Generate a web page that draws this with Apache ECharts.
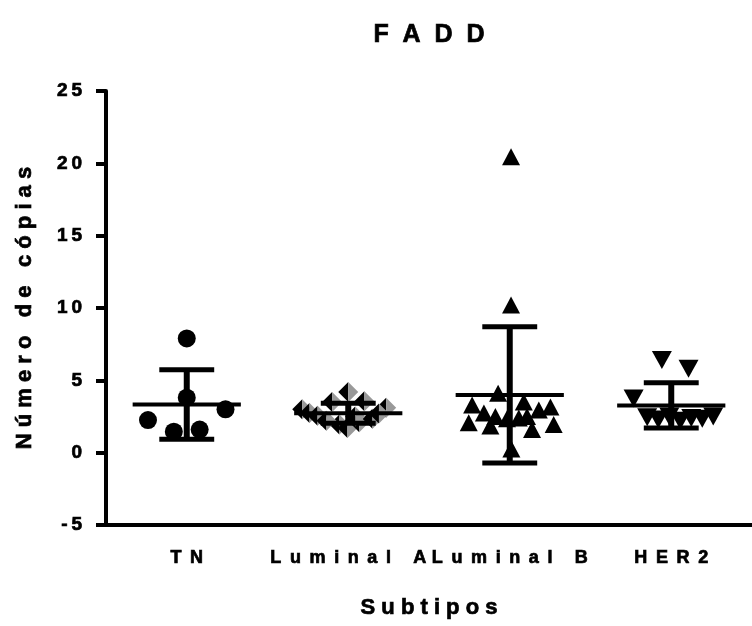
<!DOCTYPE html>
<html>
<head>
<meta charset="utf-8">
<title>FADD</title>
<script src="https://cdn.jsdelivr.net/npm/echarts@6/dist/echarts.min.js"></script>
<style>
html, body { margin: 0; padding: 0; background: #fff; }
#chart { width: 752px; height: 626px; }
</style>
</head>
<body>
<div id="chart"></div>
<script>
// categorias e valores
var categories = ['TN', 'Luminal A', 'Luminal B', 'HER2'];
var yMin = -5, yMax = 25, yStep = 5;

var tnValues = [7.9, 3.8, 2.25, 1.45, 1.6, 3.0];
var tnJitter = [0, 0, -0.24, -0.08, 0.08, 0.24];

var lumAValues = [4.2, 3.5, 3.55, 3.1, 3.0, 2.75, 2.55, 1.95, 1.7, 2.1, 2.35, 2.7, 2.2, 2.5];
var lumAJitter = [0, -0.1, 0.1, 0.235, -0.285, -0.24, -0.19, -0.055, -0.005, 0.068, 0.15, 0.19, -0.135, 0.043];

var lumBValues = [20.45, 10.2, 4.1, 3.3, 3.5, 2.75, 2.5, 2.07, 2.35, 2.4, 2.5, 2.95, 3.15, 1.85, 1.6, 1.95, 0.25];
var lumBJitter = [0.008, 0.008, -0.072, -0.233, 0.087, -0.16, -0.089, -0.254, -0.017, 0.056, 0.107, 0.18, 0.252, -0.12, 0.138, 0.272, 0.01];

var her2Values = [6.4, 5.8, 3.75, 2.45, 2.3, 2.5, 2.2, 2.4, 2.35, 2.5];
var her2Jitter = [-0.058, 0.107, -0.233, -0.149, -0.08, -0.012, 0.056, 0.124, 0.192, 0.26];

var groups = [
  [tnValues, tnJitter],
  [lumAValues, lumAJitter],
  [lumBValues, lumBJitter],
  [her2Values, her2Jitter]
];

// texto espaçado como no original
function spaced(s, sep) {
  return String(s).split('').join(sep || ' ');
}

function meanSd(arr) {
  var m = arr.reduce(function (a, b) { return a + b; }, 0) / arr.length;
  var ss = arr.reduce(function (a, b) { return a + (b - m) * (b - m); }, 0);
  return [m, Math.sqrt(ss / (arr.length - 1))];
}

function points(idx) {
  var g = groups[idx];
  return g[0].map(function (v, i) { return [idx + g[1][i], v]; });
}

var errData = groups.map(function (g, i) {
  var ms = meanSd(g[0]);
  return [i, ms[0], ms[1]];
});

var font = 'Liberation Sans, Arial, sans-serif';
// contorno fino para deixar o negrito mais pesado
var heavy = { color: '#000', fontFamily: font, fontWeight: 'bold', textBorderColor: '#000', textBorderWidth: 0.7 };

var chart = echarts.init(document.getElementById('chart'));
chart.setOption({
  backgroundColor: '#fff',
  animation: false,
  title: {
    text: spaced('FADD', '  '),
    left: 424,
    top: 18,
    textAlign: 'center',
    textStyle: Object.assign({ fontSize: 25 }, heavy)
  },
  grid: { left: 106, right: 0, top: 91, bottom: 101, outerBoundsMode: 'none' },
  xAxis: [{
    type: 'category',
    data: categories,
    boundaryGap: true,
    axisLine: { onZero: false, lineStyle: { color: '#000', width: 4 } },
    axisTick: { alignWithLabel: true, length: 10, lineStyle: { color: '#000', width: 4 } },
    axisLabel: Object.assign({
      interval: 0,
      hideOverlap: false,
      margin: 24,
      fontSize: 18,
      formatter: function (v) { return spaced(v, ' \u2009'); }
    }, heavy),
    name: spaced('Subtipos'),
    nameLocation: 'middle',
    nameGap: 72,
    nameTextStyle: Object.assign({ fontSize: 22 }, heavy),
    splitLine: { show: false }
  }, {
    type: 'value',
    min: -0.5,
    max: 3.5,
    show: false
  }],
  yAxis: {
    type: 'value',
    min: yMin,
    max: yMax,
    interval: yStep,
    axisLine: { show: true, onZero: false, lineStyle: { color: '#000', width: 4 } },
    axisTick: { show: true, length: 10, lineStyle: { color: '#000', width: 4 } },
    axisLabel: Object.assign({
      margin: 24,
      fontSize: 19,
      formatter: function (v) { return spaced(v, '\u2009'); }
    }, heavy),
    splitLine: { show: false },
    name: spaced('Número de cópias'),
    nameLocation: 'middle',
    nameGap: 70,
    nameTextStyle: Object.assign({ fontSize: 22 }, heavy)
  },
  series: [
    {
      type: 'scatter',
      xAxisIndex: 1,
      data: points(0),
      symbol: 'circle',
      symbolSize: 18,
      itemStyle: { color: '#000', opacity: 1 }
    },
    {
      // losangos meio preto, meio cinza
      type: 'custom',
      xAxisIndex: 1,
      data: points(1),
      renderItem: function (params, api) {
        var p = api.coord([api.value(0), api.value(1)]);
        var h = 10;
        return {
          type: 'group',
          children: [{
            type: 'polygon',
            shape: { points: [[p[0], p[1] - h], [p[0] - h, p[1]], [p[0], p[1] + h]] },
            style: { fill: '#000' }
          }, {
            type: 'polygon',
            shape: { points: [[p[0], p[1] - h], [p[0] + h, p[1]], [p[0], p[1] + h]] },
            style: { fill: '#999' }
          }]
        };
      }
    },
    {
      type: 'scatter',
      xAxisIndex: 1,
      data: points(2),
      symbol: 'triangle',
      symbolSize: [18, 17],
      itemStyle: { color: '#000', opacity: 1 }
    },
    {
      type: 'scatter',
      xAxisIndex: 1,
      data: points(3),
      symbol: 'triangle',
      symbolRotate: 180,
      symbolSize: [20, 18],
      itemStyle: { color: '#000', opacity: 1 }
    },
    {
      // media e desvio padrao
      type: 'custom',
      xAxisIndex: 1,
      z: 10,
      data: errData,
      renderItem: function (params, api) {
        var x = api.value(0), m = api.value(1), sd = api.value(2);
        var a = api.coord([x - 0.335, m]), b = api.coord([x + 0.335, m]);
        var top = api.coord([x, m + sd]), bot = api.coord([x, m - sd]);
        var cl = api.coord([x - 0.17, m + sd]), cr = api.coord([x + 0.17, m + sd]);
        var dl = api.coord([x - 0.17, m - sd]), dr = api.coord([x + 0.17, m - sd]);
        var st = { stroke: '#000', lineWidth: 5 };
        return {
          type: 'group',
          children: [
            { type: 'line', shape: { x1: a[0], y1: a[1], x2: b[0], y2: b[1] }, style: { stroke: '#000', lineWidth: 4 } },
            { type: 'line', shape: { x1: top[0], y1: top[1], x2: bot[0], y2: bot[1] }, style: { stroke: '#000', lineWidth: 6 } },
            { type: 'line', shape: { x1: cl[0], y1: cl[1], x2: cr[0], y2: cr[1] }, style: st },
            { type: 'line', shape: { x1: dl[0], y1: dl[1], x2: dr[0], y2: dr[1] }, style: st }
          ]
        };
      }
    }
  ]
});
</script>
</body>
</html>
